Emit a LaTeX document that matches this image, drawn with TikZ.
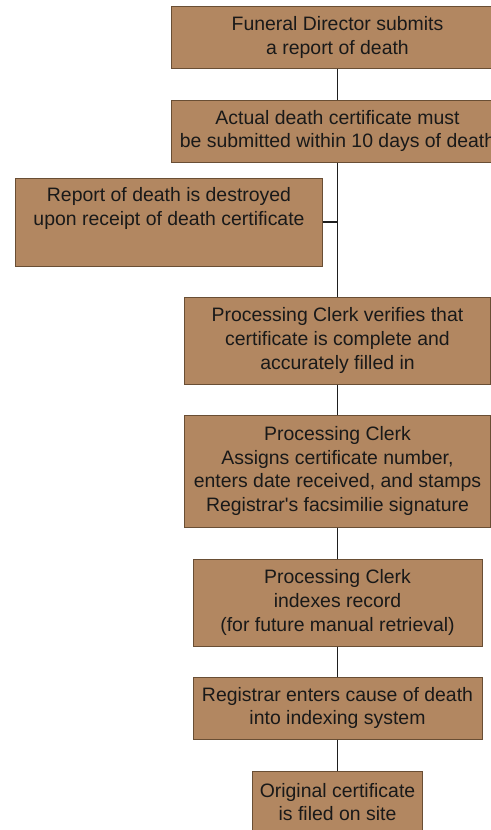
\documentclass[tikz,border=0pt]{standalone}
\usepackage{fontspec}
\setmainfont{Liberation Sans}[Ligatures=TeXOff]
\definecolor{boxfill}{RGB}{178,135,97}
\definecolor{boxedge}{RGB}{105,78,52}
\definecolor{linecol}{RGB}{30,30,30}
\begin{document}
\begin{tikzpicture}[x=1bp,y=-1bp,
  stepbox/.style={draw=boxedge, line width=1bp, fill=boxfill, inner sep=0pt, align=center,
    font=\fontsize{19.5}{23.7}\selectfont, text=black!90},
  conn/.style={draw=linecol, line width=1.4bp}]
\useasboundingbox (0,0) rectangle (491,830);
\clip (0,0) rectangle (491,830);
\node[stepbox, minimum width=333bp, minimum height=61bp] (b1) at (337.5,37.5) {Funeral Director submits\\a report of death};
\node[stepbox, minimum width=333bp, minimum height=62bp] (b2) at (337.5,131) {Actual death certificate must\\be submitted within 10 days of death};
\node[stepbox, minimum width=306bp, minimum height=88bp] (b3) at (169,222) {Report of death is destroyed\\upon receipt of death certificate\\\strut};
\node[stepbox, minimum width=306bp, minimum height=87bp] (b4) at (337.5,340.5) {Processing Clerk verifies that\\certificate is complete and\\accurately filled in};
\node[stepbox, minimum width=306bp, minimum height=112bp] (b5) at (337.5,471) {Processing Clerk\\Assigns certificate number,\\enters date received, and stamps\\Registrar's facsimilie signature};
\node[stepbox, minimum width=289bp, minimum height=87bp] (b6) at (337.5,602.5) {Processing Clerk\\indexes record\\(for future manual retrieval)};
\node[stepbox, minimum width=289bp, minimum height=62bp] (b7) at (337.5,708) {Registrar enters cause of death\\into indexing system};
\node[stepbox, minimum width=170bp, minimum height=62bp] (b8) at (337.5,802) {Original certificate\\is filed on site};
\draw[conn] (b1.south) -- (b2.north);
\draw[conn] (b2.south) -- (b4.north);
\draw[conn] (b3.east) -- (b3.east -| b2.south);
\draw[conn] (b4.south) -- (b5.north);
\draw[conn] (b5.south) -- (b6.north);
\draw[conn] (b6.south) -- (b7.north);
\draw[conn] (b7.south) -- (b8.north);
\end{tikzpicture}
\end{document}
